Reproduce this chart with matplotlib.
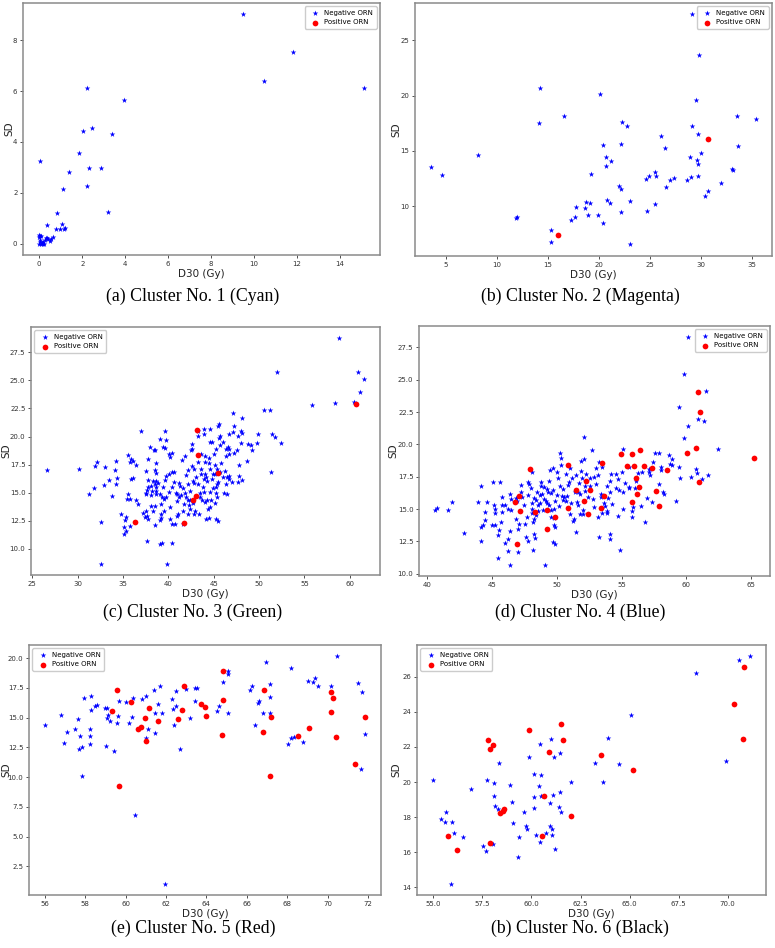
import matplotlib
matplotlib.use("Agg")
import matplotlib.pyplot as plt
from matplotlib.ticker import MultipleLocator, FormatStrFormatter

# ---------------- Data ----------------
# (a) Cluster 1
a_neg_x = [9.46, 11.82, 10.47, 15.1, 2.24, 3.96, 2.02, 2.44, 3.37, 1.85, 0.02, 1.37, 2.31, 2.87,
           2.24, 1.09, 3.21, 0.81, 0.37, 1.04, 0.78, 0.96, 1.2, 1.15,
           0.0, 0.0, 0.02, 0.0, 0.1, 0.19, 0.26, 0.34, 0.42, 0.5, 0.57, 0.62, 0.19, 0.05, 0.15,
           0.22, 0.3, 0.08, 0.03, 0.12]
a_neg_y = [9.02, 7.55, 6.39, 6.12, 6.12, 5.64, 4.43, 4.56, 4.31, 3.55, 3.24, 2.81, 2.96, 2.99,
           2.28, 2.16, 1.26, 1.21, 0.72, 0.75, 0.59, 0.59, 0.62, 0.56,
           0.34, 0.25, 0.14, 0.0, 0.0, 0.08, 0.14, 0.2, 0.17, 0.1, 0.17, 0.25, 0.0, 0.05, 0.03,
           0.0, 0.22, 0.28, 0.3, 0.02]
a_pos_x = []
a_pos_y = []

# (b) Cluster 2
b_neg_x = [29.08, 29.83, 14.26, 20.08, 29.53, 16.58, 14.13, 33.49, 35.36, 22.3, 22.76, 29.08,
           29.67, 26.07, 20.37, 22.2, 26.46, 33.66, 8.17, 20.73, 30.02, 28.88, 29.57, 29.73,
           21.13, 20.73, 3.56, 4.57, 19.23, 33.03, 33.1, 25.44, 24.92, 25.54, 28.98, 29.67,
           24.59, 27.31, 26.92, 28.62, 31.99, 21.94, 22.14, 26.53, 30.68, 30.42, 20.76, 23.06,
           18.74, 19.1, 21.09, 25.51, 17.79, 18.67, 11.84, 12.0, 24.66, 22.2, 18.9, 19.92,
           17.63, 17.3, 20.41, 15.34, 15.34, 22.99]
b_neg_y = [27.33, 23.64, 20.64, 20.1, 19.62, 18.19, 17.47, 18.13, 17.89, 17.62, 17.23, 17.26,
           16.53, 16.38, 15.53, 15.62, 15.26, 15.47, 14.63, 14.41, 14.78, 14.48, 14.2, 13.84,
           14.05, 13.63, 13.51, 12.84, 12.93, 13.36, 13.27, 13.08, 12.75, 12.72, 12.66, 12.72,
           12.45, 12.51, 12.36, 12.36, 12.06, 11.84, 11.51, 11.69, 11.36, 10.88, 10.54, 10.48,
           10.36, 10.3, 10.3, 10.18, 9.94, 9.79, 8.88, 8.97, 9.52, 9.46, 9.21, 9.21,
           8.97, 8.73, 8.43, 7.82, 6.79, 6.52]
b_pos_x = [30.65, 16.02]
b_pos_y = [16.11, 7.4]

# (c) Cluster 3
c_neg_x = [58.76, 51.96, 60.88, 61.58, 61.07, 60.41, 55.8, 58.36, 50.49, 51.19, 47.17, 48.08,
           52.47, 49.91, 51.37, 51.8, 51.34, 48.74, 49.14, 49.26, 49.8, 48.66, 48.04, 47.97,
           48.12, 47.2, 47.13, 46.65, 47.68, 45.59, 45.52, 44.6, 43.95, 43.91, 43.22, 43.22,
           45.67, 45.59, 46.0, 44.64, 45.7, 46.58, 46.73, 45.26, 45.04, 47.24, 47.6, 45.85,
           46.36, 44.06, 44.46, 43.58, 42.52, 42.63, 41.79, 41.46, 43.32, 44.09, 44.46, 43.65,
           44.09, 44.6, 45.19, 45.48, 46.07, 46.2, 46.5, 46.73, 46.98, 47.68, 48.12, 47.79,
           47.75, 46.32, 46.1, 46.43, 42.56, 42.85, 42.19, 41.93, 43.58, 43.1, 42.67, 42.78,
           42.12, 42.38, 43.22, 43.8, 44.2, 43.98, 44.31, 44.82, 45.23, 44.93, 45.26, 45.12,
           44.6, 44.31, 44.67, 44.02, 43.47, 43.47, 42.41, 41.86, 41.93, 41.75, 42.27, 42.92,
           42.78, 43.43, 44.35, 44.64, 44.17, 44.5, 45.3, 45.48, 42.15, 41.57,
           26.61, 30.12, 32.1, 31.91, 33.05, 33.41, 32.86, 31.8, 31.22, 33.8, 34.1, 34.28,
           34.36, 34.18, 35.5, 35.83, 35.72, 36.12, 36.41, 35.83, 36.12, 35.53, 35.46, 35.79,
           36.38, 36.63, 34.77, 35.28, 35.24, 35.06, 35.35, 35.06, 35.75, 32.61, 32.61,
           37.0, 37.22, 37.51, 37.54, 37.77, 37.73, 37.95, 38.46, 38.61, 38.54, 38.64, 38.31,
           38.61, 38.1, 37.8, 37.62, 37.58, 38.24, 38.68, 38.1, 37.44, 37.73, 38.31, 38.1,
           38.54, 37.66, 39.12, 39.48, 39.04, 39.67, 39.63, 39.7, 40.03, 40.4, 39.63, 39.34,
           40.36, 40.36, 40.65, 40.8, 40.98, 40.22, 40.36, 40.76, 41.02, 39.34, 39.12, 40.36,
           39.85,
           44.79, 46.32, 46.73, 42.63, 46.69, 45.41, 43.98, 43.73, 42.12, 42.67, 42.37, 41.57,
           45.41, 44.93, 45.7, 45.34, 45.19, 38.53, 38.5, 38.61, 38.68, 38.83, 37.66, 38.53,
           39.19, 39.19, 39.16, 39.08, 39.41, 40.18, 39.78, 39.41, 39.56, 39.78, 40.03, 40.03,
           40.58, 40.91, 41.13, 41.39, 41.17, 41.28, 41.57, 40.91, 40.22, 37.51]
c_neg_y = [28.75, 25.75, 25.72, 25.16, 23.97, 23.08, 22.82, 22.96, 22.37, 22.4, 22.1, 21.69,
           19.4, 20.26, 20.2, 20.0, 16.82, 19.37, 19.2, 18.81, 19.4, 17.83, 19.46, 20.5,
           20.35, 20.95, 20.41, 20.2, 20.06, 21.09, 20.95, 20.65, 20.65, 20.26, 20.06, 20.5,
           20.06, 19.85, 19.55, 19.55, 19.23, 19.08, 18.93, 18.87, 18.48, 18.57, 18.78, 17.62,
           18.28, 18.28, 18.13, 18.48, 18.78, 19.31, 18.28, 17.89, 17.74, 17.77, 17.62, 17.09,
           16.65, 17.09, 16.65, 15.96, 16.35, 16.94, 16.35, 16.47, 15.96, 15.96, 16.11, 16.5,
           17.45, 15.76, 14.98, 14.86, 17.39, 17.09, 17.03, 16.59, 16.65, 16.35, 16.05, 15.84,
           15.75, 15.13, 15.75, 15.46, 16.41, 16.2, 16.05, 16.26, 15.46, 15.4, 14.95, 14.12,
           15.1, 14.39, 14.33, 14.15, 15.01, 14.57, 14.33, 15.01, 14.57, 13.98, 13.86, 13.38,
           13.06, 13.09, 13.53, 13.68, 12.64, 12.7, 12.64, 12.52, 13.09, 12.2,
           17.03, 17.09, 17.74, 17.33, 17.3, 16.11, 15.7, 15.43, 14.92, 14.72, 17.03, 17.8,
           16.29, 15.75, 18.34, 18.01, 17.77, 17.86, 17.5, 16.2, 16.29, 14.86, 14.42, 14.42,
           14.33, 13.98, 13.14, 12.79, 12.55, 11.96, 11.6, 11.3, 12.05, 12.37, 8.67,
           20.47, 13.23, 13.38, 16.94, 16.14, 18.01, 19.11, 18.84, 17.68, 17.03, 16.79, 16.0,
           16.05, 15.61, 15.46, 15.28, 15.01, 15.16, 15.46, 14.81, 12.79, 12.64, 13.38, 13.83,
           12.14, 10.71, 12.55, 13.38, 19.76, 19.02, 20.47, 19.67, 18.48, 18.51, 16.11, 14.57,
           15.52, 16.88, 15.99, 15.01, 14.3, 12.67, 12.2, 12.2, 13.09, 10.53, 10.42, 10.5,
           8.67,
           19.55, 18.93, 18.48, 18.9, 16.23, 15.75, 15.1, 14.39, 14.33, 14.12, 13.53, 13.38,
           14.63, 16.65, 16.88, 17.09, 17.45, 18.78, 15.75, 15.16, 14.92, 15.9, 12.94, 13.8,
           12.73, 13.09, 13.98, 14.92, 19.05, 18.22, 16.44, 15.46, 14.42, 14.63, 15.1, 16.65,
           16.85, 14.86, 14.57, 14.78, 15.84, 15.61, 15.4, 12.94, 13.68, 14.86]
c_pos_x = [60.66, 43.18, 43.25, 45.45, 43.03, 42.74, 41.68, 36.27]
c_pos_y = [22.93, 20.59, 18.37, 16.79, 14.66, 14.36, 12.34, 12.43]

# (d) Cluster 4
d_neg_x = [60.13, 59.82, 61.49, 59.46, 60.88, 60.1, 61.39, 59.85, 62.4, 58.69, 58.87, 58.74,
           59.41, 57.89, 57.58, 57.4, 57.14, 57.14, 57.19, 58.04, 58.07, 58.2, 59.2, 59.5,
           60.75, 60.8, 60.36, 61.7, 61.21, 57.35, 56.96, 56.8, 56.08, 56.29, 56.0, 55.88,
           55.77, 55.82, 55.59, 55.54, 55.1, 55.05, 55.1, 55.1, 54.9, 54.82, 54.74, 54.54,
           54.12, 54.18, 54.1, 54.54, 53.97, 53.45, 53.61, 53.71, 53.87, 53.87, 53.53, 54.12,
           54.12, 53.27, 53.22, 53.2, 53.53, 53.25, 53.04, 52.73, 52.86, 52.78, 52.55, 52.29,
           52.16, 52.19, 52.11, 52.09, 51.86, 51.91, 51.98, 51.73, 51.65, 51.78, 51.57, 51.65,
           51.8, 52.06, 51.47, 51.29, 51.37, 51.49, 51.21, 50.95, 50.88, 51.03, 50.77, 50.75,
           50.49, 50.41, 50.23, 50.46, 50.36, 50.26, 50.36, 50.03, 49.9, 49.82, 49.77, 49.69,
           49.59, 49.33, 49.28, 49.02, 48.81, 48.79, 49.41, 49.46, 49.74, 49.43, 49.23, 49.54,
           49.82, 49.85, 49.72, 49.9, 49.1, 48.94, 48.71, 48.56, 48.71, 48.5, 48.43, 48.25,
           48.09, 48.07, 48.43, 48.56, 48.22, 48.17, 48.12, 48.25, 48.35, 48.17, 48.07, 47.84,
           47.78, 47.78, 47.73, 47.65, 47.78, 47.27, 47.24, 47.32, 47.53, 47.06, 47.01, 47.01,
           46.93, 46.83, 46.5, 46.44, 46.47, 46.26, 46.03, 46.37, 46.26, 46.26, 46.42, 46.01,
           45.7, 45.8, 45.75, 45.75, 45.64, 45.59, 45.51, 45.46, 45.26, 45.23, 45.23, 45.18,
           45.13, 45.0, 44.61, 44.51, 44.46, 44.36, 44.2, 44.15, 44.15, 43.97, 42.83, 41.96,
           41.62, 40.75, 40.62,
           50.6, 51.0, 52.4, 53.0, 49.0, 48.9, 50.1, 50.7, 52.9, 53.9, 54.7, 55.3, 56.6,
           57.9, 58.3, 49.6, 50.2, 51.4, 52.6, 46.9, 47.5, 48.0, 49.2, 50.0, 51.1, 52.0,
           53.4, 54.3, 55.6, 56.5, 58.9]
d_neg_y = [28.28, 25.42, 24.1, 22.93, 22.0, 21.4, 21.82, 20.49, 19.61, 19.19, 18.85, 18.49,
           18.23, 19.35, 19.3, 18.67, 18.1, 17.84, 17.63, 18.28, 17.99, 16.28, 15.66, 17.37,
           18.08, 17.76, 17.5, 17.63, 17.3, 15.56, 15.82, 14.03, 17.14, 17.82, 16.6, 15.14,
           14.41, 14.83, 16.7, 18.23, 19.66, 17.84, 16.34, 14.99, 11.82, 16.47, 14.44, 16.6,
           16.34, 17.74, 17.19, 17.74, 15.82, 16.13, 15.48, 15.22, 14.83, 14.67, 14.7, 13.09,
           12.7, 12.83, 14.41, 17.63, 18.28, 18.67, 18.2, 19.56, 15.14, 15.77, 17.43, 17.74,
           16.78, 16.39, 18.88, 20.57, 18.72, 17.94, 17.37, 16.98, 16.34, 16.18, 15.56, 15.3,
           14.6, 14.62, 13.22, 14.1, 14.26, 17.63, 17.37, 17.11, 16.86, 18.15, 16.0, 15.61,
           15.69, 16.0, 16.75, 16.54, 18.93, 19.32, 18.41, 16.08, 15.66, 15.01, 14.34, 16.44,
           16.21, 16.31, 16.54, 16.7, 17.11, 16.8, 17.17, 18.05, 18.2, 15.3, 15.43, 14.39,
           13.74, 13.58, 12.44, 12.29, 10.7, 14.91, 15.43, 15.3, 16.08, 16.34, 15.69, 15.87,
           15.43, 14.73, 14.52, 14.83, 14.26, 14.0, 15.04, 13.04, 12.78, 11.82, 17.89, 16.91,
           17.06, 16.08, 14.36, 12.83, 12.52, 16.86, 16.34, 15.95, 13.84, 13.87, 11.66, 13.43,
           15.64, 15.82, 15.79, 16.16, 14.93, 15.01, 15.3, 13.27, 12.65, 11.79, 10.7, 12.39,
           14.0, 14.78, 15.3, 15.95, 17.09, 13.35, 12.96, 11.2, 13.74, 14.67, 15.0, 15.3,
           17.11, 13.79, 15.58, 14.78, 14.13, 13.74, 13.64, 16.8, 12.55, 15.56, 13.12, 15.51,
           14.93, 15.09, 14.91,
           15.9, 14.6, 15.9, 16.9, 15.8, 16.2, 17.4, 17.7, 17.5, 16.8, 17.3, 17.0, 17.9,
           16.9, 16.2, 14.9, 15.2, 16.3, 16.8, 14.2, 15.3, 16.6, 15.6, 17.9, 15.5, 14.9,
           15.9, 15.4, 16.6, 15.2, 18.4]
d_pos_x = [47.91, 47.06, 46.75, 47.16, 48.32, 46.98, 49.28, 49.9, 49.28, 50.88, 50.88, 51.47,
           52.27, 52.6, 52.11, 52.45, 53.38, 53.53, 53.66, 54.97, 55.44, 55.8, 55.95, 56.39,
           56.73, 56.11, 56.34, 56.19, 55.77, 57.32, 57.65, 57.89, 58.51, 60.05, 60.75, 60.9,
           61.06, 60.98, 65.21]
d_pos_y = [18.08, 16.0, 15.53, 14.83, 14.8, 12.29, 14.96, 14.36, 13.45, 18.39, 15.09, 16.49,
           17.19, 16.44, 15.61, 14.62, 15.09, 18.57, 16.0, 19.27, 18.36, 19.24, 18.36, 19.58,
           18.36, 17.4, 16.7, 16.13, 15.53, 18.15, 16.36, 15.24, 17.99, 19.35, 19.74, 24.02,
           22.54, 17.12, 18.91]

# (e) Cluster 5
e_neg_x = [56.02, 56.82, 56.94, 57.12, 57.48, 57.65, 57.76, 57.71, 57.83, 57.83, 57.95, 58.23,
           58.23, 58.24, 58.28, 58.28, 58.49, 58.57, 59.0, 59.07, 59.07, 59.12, 59.04, 59.25,
           59.45, 59.56, 59.61, 59.69, 60.02, 60.16, 60.31, 60.37, 60.45, 60.83, 61.0, 61.0,
           61.13, 61.39, 61.44, 61.46, 61.61, 61.71, 61.81, 61.96, 62.3, 62.35, 62.4, 62.52,
           62.52, 62.7, 63.01, 63.21, 63.42, 63.46, 63.55, 64.53, 64.63, 64.82, 65.07, 65.07,
           65.06, 66.14, 66.24, 66.39, 66.59, 66.57, 66.79, 66.95, 67.12, 67.12, 67.12, 68.04,
           68.19, 68.19, 68.34, 68.77, 69.03, 69.28, 69.35, 69.51, 70.14, 70.45, 71.51, 71.7,
           71.64, 71.84]
e_neg_y = [14.41, 15.2, 12.84, 13.79, 14.02, 14.89, 13.48, 12.33, 12.56, 10.11, 16.66, 14.02,
           13.48, 12.81, 16.85, 15.65, 15.93, 16.07, 15.84, 15.79, 14.94, 15.2, 12.61, 14.69,
           12.22, 14.55, 15.17, 16.43, 16.29, 14.52, 15.08, 16.66, 6.77, 16.54, 16.8, 13.29,
           14.04, 17.33, 15.39, 13.74, 16.15, 17.61, 15.34, 1.04, 16.54, 15.73, 14.41, 16.01,
           17.25, 12.39, 17.42, 14.94, 16.35, 17.47, 17.47, 15.53, 15.96, 17.98, 18.9, 18.62,
           15.34, 17.28, 17.61, 14.33, 16.4, 16.18, 15.34, 19.69, 17.84, 16.71, 15.34, 12.78,
           19.13, 13.31, 13.37, 12.92, 18.09, 17.95, 18.31, 17.61, 17.61, 20.14, 17.89, 17.11,
           10.7, 13.62]
e_pos_x = [59.56, 59.33, 59.69, 60.26, 60.64, 60.78, 60.95, 61.03, 61.15, 61.62, 62.61, 62.81,
           62.91, 63.72, 63.95, 64.0, 64.78, 64.81, 64.84, 66.79, 66.84, 67.15, 67.2, 68.55,
           69.06, 70.14, 70.16, 70.27, 70.43, 71.36, 71.82]
e_pos_y = [17.33, 15.59, 9.24, 16.29, 14.07, 14.18, 14.94, 13.0, 15.84, 14.69, 14.86, 15.67,
           17.67, 16.1, 15.87, 15.17, 13.57, 16.46, 18.9, 13.76, 17.33, 10.11, 15.08, 13.48,
           14.16, 15.48, 17.16, 16.63, 13.4, 11.12, 15.08]

# (f) Cluster 6
f_neg_x = [71.15, 70.59, 68.4, 65.06, 63.89, 60.45, 61.02, 61.46, 61.14, 59.86, 58.32, 63.25,
           64.45, 69.9, 60.11, 60.47, 54.97, 57.75, 58.09, 58.91, 60.38, 62.04, 63.66, 56.91,
           58.09, 60.11, 60.5, 61.09, 61.46, 59.02, 60.94, 58.14, 58.31, 59.64, 60.13, 61.39,
           61.51, 55.66, 55.39, 55.57, 55.94, 59.05, 59.72, 59.76, 60.92, 61.07, 56.06, 56.52,
           59.37, 60.21, 60.72, 61.07, 60.42, 58.02, 57.53, 57.68, 61.19, 59.29, 55.89]
f_neg_y = [27.16, 26.95, 26.23, 23.83, 22.5, 22.19, 22.44, 21.64, 21.41, 21.45, 21.09, 21.09,
           21.03, 21.22, 20.44, 20.4, 20.13, 20.11, 19.94, 19.85, 19.77, 19.98, 20.02, 19.62,
           19.22, 19.12, 19.18, 19.28, 19.45, 18.88, 18.8, 18.63, 18.48, 18.32, 18.5, 18.57,
           18.3, 18.3, 17.87, 17.75, 17.71, 17.66, 17.47, 17.3, 17.49, 17.31, 17.09, 16.84,
           16.84, 16.99, 17.07, 16.97, 16.57, 16.48, 16.38, 16.06, 16.21, 15.7, 14.21]
f_pos_x = [70.83, 70.35, 70.79, 61.51, 59.86, 61.63, 57.8, 58.04, 57.87, 60.91, 63.55, 65.17,
           60.65, 58.61, 58.56, 58.41, 62.02, 55.74, 57.9, 60.53, 56.21]
f_pos_y = [26.53, 24.46, 22.46, 23.33, 22.95, 22.4, 22.4, 22.1, 21.87, 21.71, 21.56, 20.67,
           19.22, 18.44, 18.34, 18.21, 18.04, 16.93, 16.53, 16.93, 16.11]

captions = ["(a) Cluster No. 1 (Cyan)", "(b) Cluster No. 2 (Magenta)",
            "(c) Cluster No. 3 (Green)", "(d) Cluster No. 4 (Blue)",
            "(e) Cluster No. 5 (Red)", "(b) Cluster No. 6 (Black)"]
neg_label = "Negative ORN"
pos_label = "Positive ORN"
x_label = "D30 (Gy)"
y_label = "SD"

# ---------------- Layout ----------------
W, H = 775, 948
fig = plt.figure(figsize=(W / 100, H / 100), dpi=100)
fig.patch.set_facecolor("white")

panels = [
    dict(nx=a_neg_x, ny=a_neg_y, px=a_pos_x, py=a_pos_y, box=(23, 3, 380, 255),
         loc="upper right", xstep=2, ystep=2, cap=(193, 296), ylab=14),
    dict(nx=b_neg_x, ny=b_neg_y, px=b_pos_x, py=b_pos_y, box=(415, 3, 772, 256),
         loc="upper right", xstep=5, ystep=5, cap=(580, 296), ylab=401),
    dict(nx=c_neg_x, ny=c_neg_y, px=c_pos_x, py=c_pos_y, box=(31, 327, 380, 575),
         loc="upper left", xstep=5, ystep=2.5, cap=(193, 612), ylab=11),
    dict(nx=d_neg_x, ny=d_neg_y, px=d_pos_x, py=d_pos_y, box=(419, 326, 770, 576),
         loc="upper right", xstep=5, ystep=2.5, cap=(580, 612), ylab=398),
    dict(nx=e_neg_x, ny=e_neg_y, px=e_pos_x, py=e_pos_y, box=(29, 645, 381, 895),
         loc="upper left", xstep=2, ystep=2.5, cap=(193, 928), ylab=11),
    dict(nx=f_neg_x, ny=f_neg_y, px=f_pos_x, py=f_pos_y, box=(417, 645, 766, 895),
         loc="upper left", xstep=2.5, ystep=2, cap=(580, 928), ylab=401),
]

for p, cap in zip(panels, captions):
    l, t, r, b = p["box"]
    ax = fig.add_axes([l / W, 1 - b / H, (r - l) / W, (b - t) / H])
    ax.scatter(p["nx"], p["ny"], marker="*", s=18, color="blue", linewidths=0,
               label=neg_label, zorder=2)
    ax.scatter(p["px"], p["py"], marker="o", s=17, color="red", linewidths=0,
               label=pos_label, zorder=3)
    ax.xaxis.set_major_locator(MultipleLocator(p["xstep"]))
    ax.yaxis.set_major_locator(MultipleLocator(p["ystep"]))
    if p["ystep"] == 2.5:
        ax.yaxis.set_major_formatter(FormatStrFormatter("%.1f"))
    if p["xstep"] == 2.5:
        ax.xaxis.set_major_formatter(FormatStrFormatter("%.1f"))
    ax.tick_params(labelsize=5, length=2.5, width=0.6, pad=1.5, colors="#333333")
    for s in ax.spines.values():
        s.set_color("#8a8a8a")
        s.set_linewidth(1.1)
    ax.set_xlabel(x_label, fontsize=7.5, labelpad=1.5, color="#222222")
    ax.set_ylabel(y_label, fontsize=7.5, color="#222222")
    # place the y label's right edge at a fixed pixel column
    ax.yaxis.set_label_coords((p["ylab"] - l) / (r - l), 0.5)
    ax.legend(loc=p["loc"], fontsize=5, markerscale=1.0, handletextpad=0.3,
              borderpad=0.5, labelspacing=0.5, framealpha=1, edgecolor="#cccccc",
              fancybox=True)
    cx, cy = p["cap"]
    fig.text(cx / W, 1 - cy / H, cap, ha="center", va="center", fontsize=12.8,
             family="Liberation Serif", color="black")

fig.savefig("out.png", dpi=100)
